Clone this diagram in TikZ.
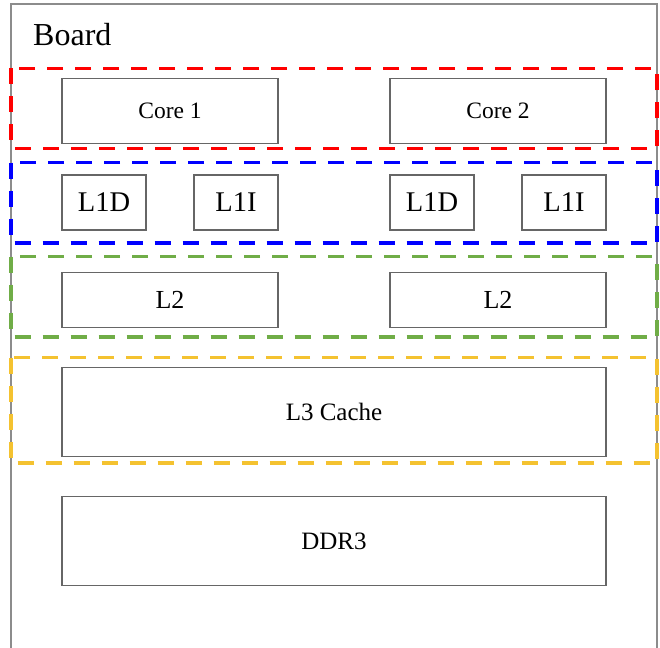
\documentclass[tikz,border=0pt]{standalone}
\usepackage{fontspec}
\setmainfont{Liberation Serif}
\begin{document}
\begin{tikzpicture}[x=1pt,y=-1pt,
  unit/.style={draw=black!60,line width=1.3pt,inner sep=0pt,font=\fontsize{23.5}{26}\selectfont},
  grp/.style={line width=3.5pt,dash pattern=on 16pt off 12pt},
  boardline/.style={draw=black!45,line width=1.6pt}]
\useasboundingbox (0,0) rectangle (660,647);
\definecolor{grpred}{RGB}{255,0,0}
\definecolor{grpblue}{RGB}{0,0,255}
\definecolor{grpgreen}{RGB}{112,173,71}
\definecolor{grpyellow}{RGB}{244,194,48}
% board
\coordinate (bl) at (11,648);
\coordinate (tl) at (11,4);
\coordinate (tr) at (657,4);
\coordinate (br) at (657,648);
\draw[boardline] (bl) -- (tl) -- (tr) -- (br);
\node[anchor=base west,inner sep=0pt,font=\fontsize{32}{36}\selectfont] (board) at (33,46) {Board};
% groups
\draw[grp,draw=grpred] (11,68.5) rectangle (657,148.5);
\draw[grp,draw=grpblue] (11,162.5) rectangle (657,243);
\draw[grp,draw=grpgreen] (11,256.5) rectangle (657,337);
\draw[grp,draw=grpyellow] (11,357.5) rectangle (657,463);
% units
\node[unit,minimum width=216pt,minimum height=65pt] (core1) at (170,110.8) {Core 1};
\node[unit,minimum width=216pt,minimum height=65pt] (core2) at (498,110.8) {Core 2};
\node[unit,minimum width=84pt,minimum height=55pt,font=\fontsize{28.5}{30}\selectfont] (l1d1) at (104,202.5) {L1D};
\node[unit,minimum width=84pt,minimum height=55pt,font=\fontsize{28.5}{30}\selectfont] (l1i1) at (236,202.5) {L1I};
\node[unit,minimum width=84pt,minimum height=55pt,font=\fontsize{28.5}{30}\selectfont] (l1d2) at (432,202.5) {L1D};
\node[unit,minimum width=84pt,minimum height=55pt,font=\fontsize{28.5}{30}\selectfont] (l1i2) at (564,202.5) {L1I};
\node[unit,minimum width=216pt,minimum height=55.5pt,font=\fontsize{26}{30}\selectfont] (l2a) at (170,300) {L2};
\node[unit,minimum width=216pt,minimum height=55.5pt,font=\fontsize{26}{30}\selectfont] (l2b) at (498,300) {L2};
\node[unit,minimum width=544pt,minimum height=89pt,font=\fontsize{25}{30}\selectfont] (l3) at (334,412.2) {L3 Cache};
\node[unit,minimum width=544pt,minimum height=89pt,font=\fontsize{25}{30}\selectfont] (ddr) at (334,541.2) {DDR3};
\end{tikzpicture}
\end{document}
